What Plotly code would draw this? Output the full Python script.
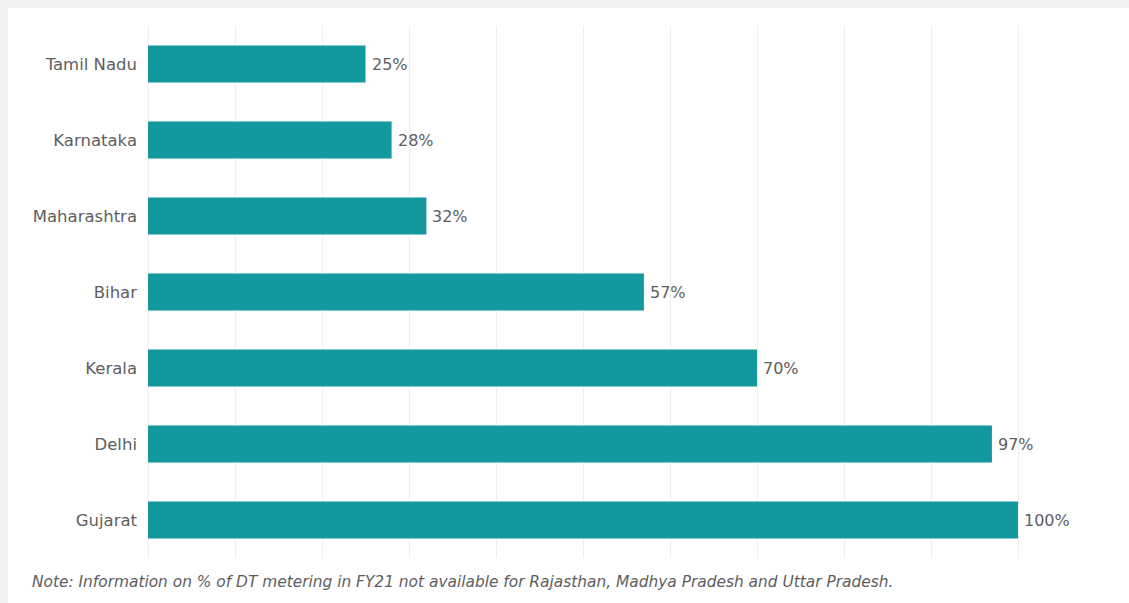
import plotly.graph_objects as go

# Share of distribution transformers metered, FY21
states = ["Tamil Nadu", "Karnataka", "Maharashtra", "Bihar", "Kerala", "Delhi", "Gujarat"]
dt_metering_pct = [25, 28, 32, 57, 70, 97, 100]

BAR_COLOR = "#13989e"
TEXT_COLOR = "#5e5e5e"
FONT = "DejaVu Sans"

fig = go.Figure()
fig.add_trace(go.Bar(
    x=dt_metering_pct,
    y=states,
    orientation="h",
    marker=dict(color=BAR_COLOR, line=dict(width=0)),
    width=0.49,
    hoverinfo="skip",
))

# value labels just past the end of each bar
for s, v in zip(states, dt_metering_pct):
    fig.add_annotation(
        x=v, y=s, text=f"{v}%", showarrow=False,
        xanchor="left", xshift=4, yanchor="middle",
        font=dict(family=FONT, size=16, color=TEXT_COLOR),
    )

# white card on a light grey page
fig.add_shape(
    type="rect", xref="paper", yref="paper",
    x0=-140 / 957, x1=1.1, y0=-0.2, y1=1 + 18 / 532,
    fillcolor="white", line=dict(width=0), layer="below",
)

fig.add_annotation(
    xref="paper", yref="paper", x=-118 / 957, y=-24 / 532,
    xanchor="left", yanchor="middle", showarrow=False,
    text="<i>Note: Information on % of DT metering in FY21 not available for Rajasthan, Madhya Pradesh and Uttar Pradesh.</i>",
    font=dict(family=FONT, size=15.4, color=TEXT_COLOR),
)

fig.update_layout(
    width=1129, height=603,
    margin=dict(l=148, r=24, t=26, b=45),
    paper_bgcolor="#f2f2f2",
    plot_bgcolor="white",
    showlegend=False,
    font=dict(family=FONT, color=TEXT_COLOR),
    xaxis=dict(
        range=[0, 110], dtick=10, showticklabels=False,
        showgrid=True, gridcolor="#eeeeee", gridwidth=1,
        zeroline=True, zerolinecolor="#eeeeee", zerolinewidth=1,
        showline=False, fixedrange=True,
    ),
    yaxis=dict(
        autorange="reversed", showgrid=False, showline=False,
        tickfont=dict(family=FONT, size=16.5, color=TEXT_COLOR),
        ticklabelstandoff=10, ticks="", fixedrange=True,
    ),
)

fig.write_html("out.html")
